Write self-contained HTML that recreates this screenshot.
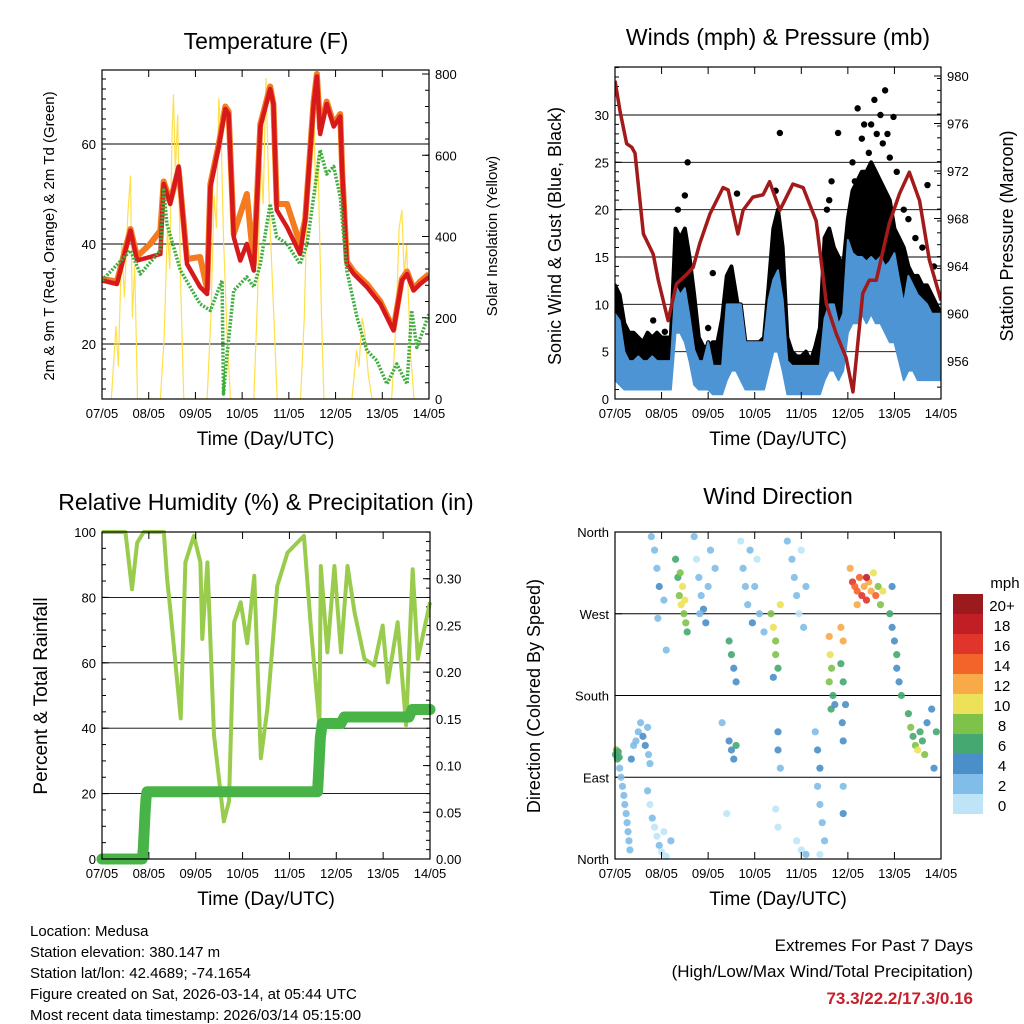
<!DOCTYPE html>
<html><head><meta charset="utf-8"><style>
body{margin:0;background:#fff}
svg{display:block;font-family:"Liberation Sans",sans-serif}
</style></head><body>
<svg id="c" width="1024" height="1024" viewBox="0 0 1024 1024"></svg>
<script>
const dayLabels=["07/05","08/05","09/05","10/05","11/05","12/05","13/05","14/05"];
// Temperature
const tDays=[0,0.32,0.61,0.75,1.03,1.25,1.32,1.46,1.64,1.82,2.1,2.25,2.32,2.5,2.64,2.71,2.82,2.96,3.1,3.25,3.39,3.6,3.67,3.74,3.96,4.24,4.35,4.53,4.6,4.67,4.81,4.96,5.1,5.14,5.24,5.39,5.67,5.96,6.24,6.42,6.53,6.67,6.81,7.0];
const tRed=[32.7,32,42.7,36.7,37.4,38,52,48,55.5,36,31.4,30,51.4,59.5,67,66,41.4,36.7,40,34.7,63.5,71,68,46.8,43.4,38,44.7,68,73.5,62,68,63.5,65.5,54.8,36,34,31.4,28,22.7,32.7,34,30.7,32,33.4];
const tOrange=[33,32.5,43,37.5,40,42.7,52.5,48.5,55,37,37.4,31,52,60,67.5,66.5,42,46,50,36,64,71.5,68,48,48,40,45,68.5,74,63,68.5,64,66,55,36.5,34.5,32,28.5,23,33,34.5,31,32.5,34];
const dDays=[0,0.61,0.82,1.25,1.32,1.39,1.68,2.1,2.32,2.57,2.6,2.67,2.82,3.1,3.25,3.39,3.6,3.74,3.96,4.24,4.39,4.53,4.67,4.81,4.96,5.1,5.24,5.46,5.67,5.88,6.1,6.31,6.53,6.63,6.74,7.0];
const tDew=[32.7,38.7,34,38.7,50.8,44,34.7,28,26.7,32.7,10,17.3,30.7,33.4,31.4,36,48,41.4,40,36,40,49.4,58.8,54,55.5,49.4,34.7,25.3,18.7,16.7,12,16,12,26.7,19.3,26];
const solarDays=[0.2,0.3,0.35,0.42,0.48,0.55,0.61,0.65,0.7,0.76,1.25,1.33,1.4,1.45,1.5,1.53,1.57,1.62,1.68,1.75,2.25,2.33,2.4,2.45,2.5,2.55,2.6,2.68,2.75,3.25,3.33,3.4,3.45,3.51,3.55,3.6,3.68,3.75,4.25,4.33,4.4,4.47,4.53,4.57,4.62,4.7,4.75,5.35,5.45,5.5,5.57,5.63,5.7,5.78,6.2,6.3,6.36,6.42,6.47,6.52,6.6,6.68];
const solarVals=[0,180,80,380,250,450,550,200,330,0,0,150,420,320,650,750,560,700,300,0,0,200,500,420,740,650,400,150,0,0,250,600,480,790,600,420,200,0,0,200,520,650,775,500,600,200,0,0,120,80,200,160,60,0,0,200,420,465,300,380,120,0];
// Winds (step 0.1 day)
const windHigh=[9,8.3,5,4,4,4.5,4,4,4.5,4,4,4,4,12,11,11.7,8.7,5.2,4,4,6,3.5,3.5,3.5,10,10,10,10,6,6,6,6,6,10.5,12.6,13.6,10.5,4,3.5,3.5,3.5,3.5,3.5,3.5,3.5,8.5,10,10,7.8,9,16.8,15.4,15,15,14.5,15,14.5,15,14,14.5,15.4,12.6,10,13,12,11,10.5,10,9,9,9];
const windLow=[2,1.5,1,1,1,1,1,1,1,1,1,1,1,7,7,6,4,1.5,1,1,1,0.5,0.5,0.5,2,3,3,2,1,1,1,1,1,3,5,5,3,0.5,0.5,0.5,0.5,0.5,0.5,0.5,0.5,2,3,3,2,3,7,8,8,9,8,9,8,8,7,6,6,4,2,3,3,2,2,2,2,2,2];
const gustHigh=[12,11,8,7,7,6.5,6,7,6.5,7,6.5,6.5,6.5,18,17,18,15,11,6.5,5.5,5.5,6,6,8.5,13,14,11,8,6,6,6,6,6.5,12,18,20,16,6.5,5,4.5,4.5,5,4,5.5,7.5,17,18,16,15,14,19,22,23,24,24,25,24,23,22,21,18,17,16,14,13,13,12,12,11,10,9];
const gustDotDays=[1.56,2.1,3.54,2.62,4.79,5.21,5.57,5.8,5.98,6.71,0.82,1.07,2.0,3.3,4.6,5.35,5.7,6.2,5.1,5.3,5.45,5.62,5.75,5.9,6.05,5.15,5.5,5.85,6.3,6.45,6.6,6.85,1.35,1.5,3.45,4.55,4.65];
const gustDotVals=[25,13.3,28.1,21.7,28.1,30.7,31.6,32.6,29.8,22.6,8.3,7.1,7.5,9,21,29,30,20,25,27.5,26,28,27,25.5,24,23,29,28,19,17,16,14,20,21.5,22,20,23];
const presDays=[0,0.11,0.25,0.36,0.43,0.61,0.82,0.93,1.14,1.32,1.54,1.68,1.82,2.04,2.32,2.43,2.64,2.75,2.96,3.18,3.32,3.54,3.82,4.04,4.32,4.54,4.75,4.96,5.11,5.32,5.46,5.61,5.89,6.11,6.32,6.54,6.75,7.0];
const presVals=[979.6,977,974.3,974,973.5,966.7,965,962.8,959.4,962.5,963.3,963.9,965.9,968.4,970.6,970.4,966.7,968.7,969.8,970,971.1,968.7,970.9,970.6,967.8,960.8,958.3,956.3,953.4,961.7,962.8,962.8,967.6,970.1,971.9,969.5,964.5,961.1];
// RH & precip
const rhDays=[0,0.5,0.64,0.75,0.89,1.32,1.39,1.46,1.68,1.78,1.96,2.1,2.14,2.25,2.39,2.6,2.71,2.82,2.96,3.1,3.25,3.39,3.53,3.74,3.96,4.31,4.46,4.64,4.67,4.81,4.96,5.1,5.24,5.39,5.6,5.81,5.99,6.1,6.31,6.49,6.63,6.74,7.0];
const rhVals=[100,100,82.5,96.7,100,100,85.6,76,43,90.7,98.8,90.7,67.3,90.7,37.9,11.5,17.6,72.4,78.5,66,86.6,30.8,46,83.5,93.7,98.8,70.4,40.9,89.6,63.2,89.6,63.2,89.6,75.4,61.2,59.2,71.4,54,72.4,40.9,88.6,61.2,78.5];
const prDays=[0,0.86,0.88,0.9,0.92,0.94,0.96,4.6,4.62,4.64,4.66,4.7,5.1,5.17,6.55,6.62,7.0];
const prVals=[0,0,0.01,0.03,0.05,0.065,0.072,0.072,0.09,0.11,0.13,0.145,0.145,0.152,0.152,0.16,0.16];
// Wind direction
const wdDays=[0.01,0.03,0.05,0.07,0.09,0.1,0.13,0.16,0.19,0.21,0.24,0.26,0.28,0.3,0.32,0.35,0.4,0.45,0.5,0.55,0.6,0.65,0.7,0.72,0.75,0.7,0.75,0.8,0.85,0.9,0.95,1.0,1.05,1.1,1.2,0.78,0.85,0.9,0.95,1.05,0.92,1.1,1.3,1.35,1.38,1.42,1.45,1.48,1.52,1.55,1.4,1.5,1.7,1.75,1.8,1.85,1.9,1.95,2.0,2.05,1.82,2.15,2.45,2.5,2.55,2.6,2.45,2.5,2.55,2.6,2.3,2.4,2.7,2.75,2.8,2.85,2.95,3.0,3.05,3.1,3.2,2.9,3.35,3.4,3.45,3.45,3.5,3.55,3.4,3.5,3.5,3.55,3.45,3.5,3.7,3.8,3.85,3.9,3.95,4.0,4.1,4.05,3.9,4.0,4.1,4.3,4.35,4.4,4.35,4.4,4.45,4.5,4.4,4.6,4.62,4.65,4.6,4.68,4.64,4.72,4.85,4.9,4.85,4.9,4.95,4.88,4.9,4.9,4.9,5.05,5.1,5.2,5.25,5.3,5.35,5.4,5.45,5.5,5.55,5.6,5.65,5.7,5.75,5.2,5.4,5.15,5.9,5.95,6.0,6.05,6.05,6.1,6.15,5.95,6.3,6.35,6.4,6.45,6.5,6.55,6.6,6.65,6.7,6.8,6.85,6.9];
const wdDirs=[115,120,110,118,112,100,90,80,70,60,50,40,30,20,10,110,125,130,140,150,135,125,145,115,105,75,60,45,35,25,15,8,30,3,20,355,340,320,300,285,265,230,330,310,290,280,300,270,260,250,315,285,355,330,310,290,275,260,300,340,270,320,240,225,210,195,130,120,110,125,150,50,350,320,300,280,260,300,330,270,250,340,270,255,240,225,210,280,200,140,120,100,55,35,350,330,310,290,270,340,300,255,20,10,5,140,120,100,80,60,40,20,5,245,225,210,195,180,165,170,255,240,215,195,170,150,130,80,50,320,305,295,310,290,300,285,305,295,315,290,300,280,295,280,310,300,270,255,240,225,210,195,180,300,160,145,135,125,120,140,130,115,150,165,100,140];
const wdSpeeds=[7,8,7,6,7,3,2,2,2,2,2,2,2,2,2,4,3,3,3,2,4,4,2,3,3,2,1,2,1,1,2,1,1,1,2,2,3,3,4,3,3,2,6,7,9,10,11,9,8,6,8,10,2,1,2,3,4,4,2,2,3,3,7,6,4,4,5,4,4,6,2,1,1,2,3,3,4,2,1,3,2,3,8,10,9,8,7,10,5,4,4,2,1,1,2,3,2,3,1,1,2,2,1,1,2,3,4,4,3,2,2,2,1,12,10,8,9,6,7,5,12,13,7,6,5,4,4,3,4,13,16,15,14,17,12,16,13,12,11,14,9,8,10,12,18,15,6,5,5,6,4,4,6,4,7,8,7,9,10,7,6,8,5,4,5,6];
const cbLabels=["20+","18","16","14","12","10","8","6","4","2","0"];
const cbColors=["#9b1a1e","#c21e26","#e0352a","#f2642a","#f8aa48","#ece158","#7fc24a","#45a870","#4a8fc8","#80bde8","#bde5f7"];

const NS="http://www.w3.org/2000/svg";
const svg=document.getElementById('c');
function el(tag,attrs,parent,text){const e=document.createElementNS(NS,tag);for(const k in attrs)e.setAttribute(k,attrs[k]);if(text!==undefined)e.textContent=text;(parent||svg).appendChild(e);return e;}
function lin(d0,d1,r0,r1){return v=>r0+(v-d0)/(d1-d0)*(r1-r0);}
function speedColor(s){let i=Math.min(10,Math.floor(s/2));return cbColors[10-i];}

function frame(g,x0,y0,x1,y1){el('rect',{x:x0,y:y0,width:x1-x0,height:y1-y0,fill:'none',stroke:'#000','stroke-width':1.2},g);}
function timeAxis(g,x0,x1,y0,y1){
  const X=lin(0,7,x0,x1);
  for(let i=0;i<=7;i++){
    const x=X(i);
    el('line',{x1:x,y1:y1,x2:x,y2:y1-7,stroke:'#000'},g);
    el('line',{x1:x,y1:y0,x2:x,y2:y0+7,stroke:'#000'},g);
    const t=el('text',{x:x,y:y1+19,'font-size':13,'text-anchor':'middle'},g,dayLabels[i]);
    
    
  }
  const tt=el('text',{x:(x0+x1)/2,y:y1+46,'font-size':19,'text-anchor':'middle'},g,'Time (Day/UTC)');
  
  
  return X;
}
function yTicks(g,side,x,ys,labels,grid,xo){
  ys.forEach((y,i)=>{
    const d=side==='l'?1:-1;
    el('line',{x1:x,y1:y,x2:x+d*7,y2:y,stroke:'#000'},g);
    if(grid)el('line',{x1:Math.min(x,xo),y1:y,x2:Math.max(x,xo),y2:y,stroke:'#000','stroke-width':0.9},g);
    const t=el('text',{x:side==='l'?x-6:x+6,y:y+5,'font-size':13,'text-anchor':side==='l'?'end':'start'},g,labels[i]);
    
    
  });
}
function minor(g,x,y0,y1,step,side){const d=side==='l'?1:-1;for(let y=y0;y>=y1;y-=step)el('line',{x1:x,y1:y,x2:x+d*4,y2:y,stroke:'#000'},g);}
function title(g,x,y,txt,name,size){const t=el('text',{x:x,y:y,'font-size':size||23,'text-anchor':'middle'},g,txt);}
function vtitle(g,x,y,txt,name,size){const t=el('text',{x:x,y:y,'font-size':size||16,'text-anchor':'middle',transform:`rotate(-90 ${x} ${y})`},g,txt);}
function poly(g,xs,ys,X,Y,attrs){return el('polyline',Object.assign({points:xs.map((d,i)=>X(d)+','+Y(ys[i])).join(' '),fill:'none'},attrs),g);}

// ===== Panel 1: Temperature
{
const g=el('g',{});
const x0=102,x1=429,y0=70,y1=399;
const X=lin(0,7,x0,x1),Y=lin(20,60,344,144),YS=lin(0,800,399,74);
const cp=el('clipPath',{id:'cp1'},g);el('rect',{x:x0,y:y0,width:x1-x0,height:y1-y0},cp);
yTicks(g,'l',x0,[344,244,144],['20','40','60'],true,x1);
minor(g,x0,399,70,10,'l');
yTicks(g,'r',x1,[0,200,400,600,800].map(YS),['0','200','400','600','800'],false);
minor(g,x1,399,74,16.25,'r');
const gi=el('g',{'clip-path':'url(#cp1)'},g);
const sp=poly(gi,solarDays,solarVals,X,YS,{stroke:'#ffe04a','stroke-width':1.2});

const po=poly(gi,tDays,tOrange,X,Y,{stroke:'#f47b20','stroke-width':6,'stroke-linejoin':'round'});

const pr=poly(gi,tDays,tRed,X,Y,{stroke:'#d7191c','stroke-width':4.5,'stroke-linejoin':'round'});

const pg=poly(gi,dDays,tDew,X,Y,{stroke:'#3fae3f','stroke-width':3.5,'stroke-dasharray':'2 1.5','stroke-linejoin':'round'});

frame(g,x0,y0,x1,y1);timeAxis(g,x0,x1,y0,y1);
title(g,266,49,'Temperature (F)','temperature-title');
vtitle(g,54,236,'2m & 9m T (Red, Orange) & 2m Td (Green)','temp-y-axis-title',15);
vtitle(g,497,236,'Solar Insolation (Yellow)','solar-y-axis-title',15);
}
// ===== Panel 2: Winds
{
const g=el('g',{});
const x0=615,x1=941,y0=67,y1=399;
const X=lin(0,7,x0,x1),Y=lin(0,30,399,115),YP=lin(956,980,361,76);
const cp=el('clipPath',{id:'cp2'},g);el('rect',{x:x0,y:y0,width:x1-x0,height:y1-y0},cp);
const yv=[0,5,10,15,20,25,30];
yTicks(g,'l',x0,yv.map(Y),yv.map(String),true,x1);
minor(g,x0,399,67,9.47,'l');
const pv=[956,960,964,968,972,976,980];
yTicks(g,'r',x1,pv.map(YP),pv.map(String),false);
minor(g,x1,399,67,11.87,'r');
const gi=el('g',{'clip-path':'url(#cp2)'},g);
const bd=windHigh.map((v,i)=>i/10);
const gpts=bd.map((d,i)=>X(d)+','+Y(gustHigh[i])).concat(bd.slice().reverse().map((d,j)=>{const i=bd.length-1-j;return X(d)+','+Y(windHigh[i]);})).join(' ');
const gb=el('polygon',{points:gpts,fill:'#000',stroke:'#000','stroke-width':4,'stroke-linejoin':'round'},gi);

gustDotDays.forEach((d,i)=>{const c=el('circle',{cx:X(d),cy:Y(gustDotVals[i]),r:3.2,fill:'#000'},gi);

});
const pts=bd.map((d,i)=>X(d)+','+Y(windHigh[i])).concat(bd.slice().reverse().map((d,j)=>{const i=bd.length-1-j;return X(d)+','+Y(windLow[i]);})).join(' ');
const band=el('polygon',{points:pts,fill:'#4d94d4',stroke:'#4d94d4','stroke-width':2,'stroke-linejoin':'round'},gi);

const pp=poly(gi,presDays,presVals,X,YP,{stroke:'#a31a1a','stroke-width':3.5,'stroke-linejoin':'round'});

frame(g,x0,y0,x1,y1);timeAxis(g,x0,x1,y0,y1);
title(g,778,45,'Winds (mph) & Pressure (mb)','winds-title');
vtitle(g,561,236,'Sonic Wind & Gust (Blue, Black)','wind-y-axis-title',18);
vtitle(g,1013,236,'Station Pressure (Maroon)','pressure-y-axis-title',18);
}
// ===== Panel 3: RH
{
const g=el('g',{});
const x0=102,x1=430,y0=532,y1=859;
const X=lin(0,7,x0,x1),Y=lin(0,100,859,532),YP=lin(0,0.35,859,532);
const rv=[0,20,40,60,80,100];
yTicks(g,'l',x0,rv.map(Y),rv.map(String),true,x1);
minor(g,x0,859,532,16.35,'l');
const pv=[0,0.05,0.1,0.15,0.2,0.25,0.3];
yTicks(g,'r',x1,pv.map(YP),pv.map(v=>v.toFixed(2)),false);
minor(g,x1,859,532,9.34,'r');
const rl=poly(g,rhDays,rhVals,X,Y,{stroke:'#99cc4c','stroke-width':4,'stroke-linejoin':'round'});

const pl=poly(g,prDays,prVals,X,YP,{stroke:'#48b448','stroke-width':11,'stroke-linejoin':'round','stroke-linecap':'round'});

frame(g,x0,y0,x1,y1);timeAxis(g,x0,x1,y0,y1);
title(g,266,510,'Relative Humidity (%) & Precipitation (in)','humidity-title');
vtitle(g,47,696,'Percent & Total Rainfall','rh-y-axis-title',19);
}
// ===== Panel 4: Wind direction
{
const g=el('g',{});
const x0=615,x1=941,y0=532,y1=859;
const X=lin(0,7,x0,x1),Y=lin(0,360,859,532);
const dv=[0,90,180,270,360];
yTicks(g,'l',x0,dv.map(Y),['North','East','South','West','North'],true,x1);
wdDays.forEach((d,i)=>{const c=el('circle',{cx:X(d),cy:Y(wdDirs[i]),r:3.6,fill:speedColor(wdSpeeds[i]),opacity:0.9},g);

});
frame(g,x0,y0,x1,y1);timeAxis(g,x0,x1,y0,y1);
title(g,778,504,'Wind Direction','wind-direction-title');
vtitle(g,540,696,'Direction (Colored By Speed)','direction-y-axis-title',18);
const cb=el('g',{},svg);
cbColors.forEach((c,i)=>{const r=el('rect',{x:953,y:594+i*20,width:30,height:20,fill:c},cb);

const t=el('text',{x:1002,y:611+i*20,'font-size':15,'text-anchor':'middle'},cb,cbLabels[i]);
});
const mt=el('text',{x:1005,y:588,'font-size':15,'text-anchor':'middle'},cb,'mph');

}
// footer
const foot=["Location: Medusa","Station elevation: 380.147 m","Station lat/lon: 42.4689; -74.1654","Figure created on Sat, 2026-03-14, at 05:44 UTC","Most recent data timestamp: 2026/03/14 05:15:00"];
foot.forEach((s,i)=>{const t=el('text',{x:30,y:936+i*21,'font-size':15},svg,s);});
const e1=el('text',{x:973,y:951,'font-size':17,'text-anchor':'end'},svg,'Extremes For Past 7 Days');

const e2=el('text',{x:973,y:977,'font-size':17,'text-anchor':'end'},svg,'(High/Low/Max Wind/Total Precipitation)');

const e3=el('text',{x:973,y:1004,'font-size':17,'text-anchor':'end','font-weight':'bold',fill:'#c8202a'},svg,'73.3/22.2/17.3/0.16');

</script>
</body></html>
